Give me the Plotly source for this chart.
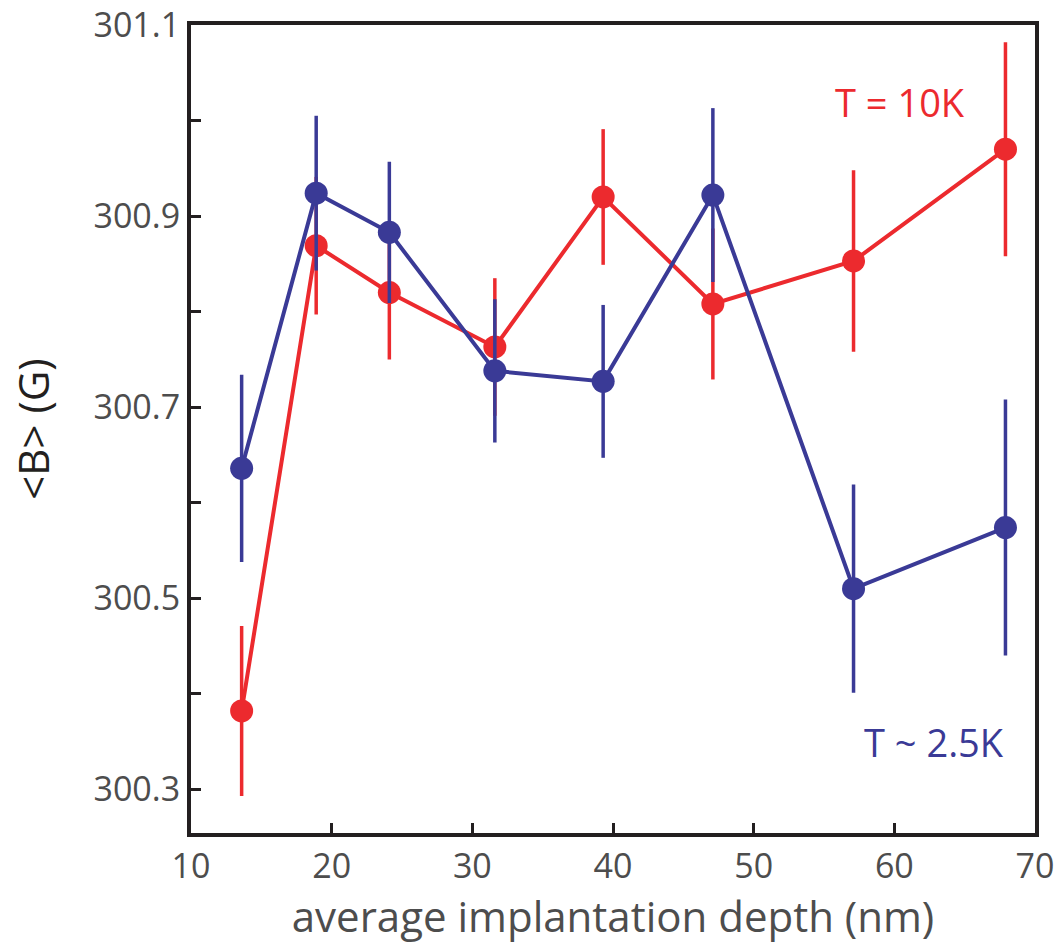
import plotly.graph_objects as go

# Data
depth_nm = [13.6, 18.9, 24.1, 31.6, 39.3, 47.1, 57.1, 67.9]

b_10K = [300.382, 300.869, 300.820, 300.763, 300.920, 300.808, 300.853, 300.970]
err_10K = [0.089, 0.072, 0.070, 0.072, 0.071, 0.079, 0.095, 0.112]

b_2p5K = [300.636, 300.924, 300.883, 300.738, 300.727, 300.922, 300.510, 300.574]
err_2p5K = [0.098, 0.081, 0.074, 0.075, 0.080, 0.091, 0.109, 0.134]

RED = "#EC2A2E"
BLUE = "#3A3A96"
AXIS = "#231F20"
GREY = "#4D4D4D"
FONT = "Open Sans"

fig = go.Figure()

for y, e, c, name in [(b_10K, err_10K, RED, "T = 10K"), (b_2p5K, err_2p5K, BLUE, "T ~ 2.5K")]:
    fig.add_trace(go.Scatter(
        x=depth_nm, y=y, name=name, mode="lines+markers",
        line=dict(color=c, width=4),
        marker=dict(color=c, size=23, line=dict(width=0)),
        error_y=dict(type="data", array=e, visible=True, color=c, thickness=3.5, width=0),
        showlegend=False,
    ))

fig.add_annotation(x=0.840, y=0.905, xref="paper", yref="paper", text="T = 10K",
                   showarrow=False, font=dict(family=FONT, size=38, color=RED),
                   xanchor="center", yanchor="middle")
fig.add_annotation(x=0.880, y=0.113, xref="paper", yref="paper", text="T ~ 2.5K",
                   showarrow=False, font=dict(family=FONT, size=38, color=BLUE),
                   xanchor="center", yanchor="middle")

fig.update_layout(
    width=1064, height=944,
    margin=dict(l=191, r=29, t=25, b=111),
    paper_bgcolor="white", plot_bgcolor="white",
    font=dict(family=FONT, color=GREY),
)

fig.update_xaxes(
    range=[10, 70], tick0=10, dtick=10, automargin=False,
    showgrid=False, zeroline=False,
    showline=True, linewidth=4, linecolor=AXIS, mirror=True,
    ticks="inside", ticklen=10, tickwidth=3, tickcolor=AXIS,
    tickfont=dict(family=FONT, size=34, color=GREY),
    title=dict(text="average implantation depth (nm)",
               font=dict(family=FONT, size=42, color=GREY), standoff=4),
)
fig.update_yaxes(
    range=[300.2543, 301.1], tick0=300.3, dtick=0.2, tickformat=".1f", automargin=False,
    showgrid=False, zeroline=False,
    showline=True, linewidth=4, linecolor=AXIS, mirror=True,
    ticks="inside", ticklen=10, tickwidth=3, tickcolor=AXIS,
    minor=dict(dtick=0.1, tick0=300.3, ticks="inside", ticklen=10, tickwidth=3, tickcolor=AXIS, showgrid=False),
    tickfont=dict(family=FONT, size=34, color=GREY),
    title=dict(text="&lt;B&gt; (G)", font=dict(family=FONT, size=42, color=AXIS), standoff=32),
)

fig.write_html("out.html")
